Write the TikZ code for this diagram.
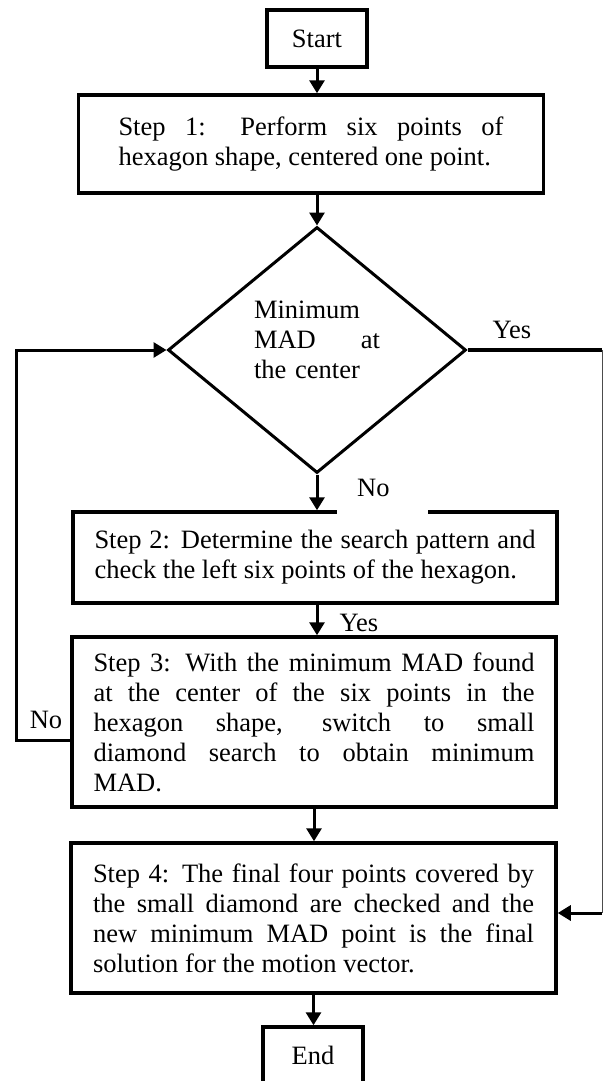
\documentclass[tikz,border=0pt]{standalone}
\usepackage{fontspec}
\setmainfont{Liberation Serif}
\usetikzlibrary{shapes.geometric, arrows.meta, positioning}
\hyphenpenalty=10000

\begin{document}
\begin{tikzpicture}[x=1pt, y=-1pt,
  txt/.style={font=\fontsize{26.5}{30}\selectfont},
  term/.style={txt, draw, line width=3.5pt, minimum width=100pt, minimum height=57pt, inner sep=0pt},
  stepbox/.style={txt, draw, line width=3.5pt, align=justify, inner sep=0pt},
  decision/.style={txt, draw, diamond, line width=3pt, minimum width=298pt, minimum height=246pt, inner sep=0pt, text width=126pt, align=left},
  flow/.style={line width=3pt, -{Triangle[length=13pt, width=15pt]}},
  lbl/.style={txt, inner sep=0pt}]
\useasboundingbox (0, 0) rectangle (603, 1081);

\node[term] (start) at (317, 38.5) {Start};
\node[stepbox, text width=385pt, minimum width=465pt, minimum height=98pt] (step1) at (311, 144)
  {Step 1: Perform six points of\linebreak hexagon shape, centered one point.};
\node[decision, text depth=80pt] (dec) at (317, 350) {Minimum\\ MAD\hfill at\\ the center};
\node[stepbox, text width=441pt, minimum width=484pt, minimum height=91pt] (step2) at (315, 557.5)
  {Step 2: Determine the search pattern and\linebreak check the left six points of the hexagon.};
\node[stepbox, text width=441pt, minimum width=484pt, minimum height=170pt] (step3) at (314, 722)
  {Step 3: With the minimum MAD found\linebreak at the center of the six points in the\linebreak
   hexagon shape, switch to small\linebreak diamond search to obtain minimum\linebreak MAD.};
\node[stepbox, text width=441pt, minimum width=485pt, minimum height=150pt] (step4) at (313.5, 918)
  {Step 4: The final four points covered by\linebreak the small diamond are checked and the\linebreak
   new minimum MAD point is the final\linebreak solution for the motion vector.};
\node[term] (end) at (313, 1055.5) {End};

\draw[flow] (start.south) -- (start.south |- step1.north);
\draw[flow] (step1.south -| dec.north) -- (dec.north);
\draw[flow] (dec.south) -- (dec.south |- step2.north);
\draw[flow] (step2.south -| dec.south) -- (dec.south |- step3.north);
\draw[flow] (step3.south) -- (step3.south |- step4.north);
\draw[flow] (step4.south) -- (step4.south |- end.north);

\coordinate (yesR) at (602, 350);
\coordinate (yesB) at (602, 913);
\draw[line width=3.5pt] (dec.east) -- (yesR);
\draw[line width=1pt, black!70] (yesR) -- (yesB);
\draw[flow] (yesB) -- (yesB -| step4.east);

\coordinate (noB) at (16, 740);
\coordinate (noT) at (16, 350);
\draw[flow] (noB -| step3.west) -- (noB) -- (noT) -- (dec.west);

\node[lbl] (yes1) at (512, 330) {Yes};
\node[lbl] (yes2) at (359, 623) {Yes};
\node[lbl] (no2) at (46, 720) {No};
\node[lbl, fill=white, anchor=base west, text height=20pt, text depth=19pt] (no1) at (337, 496)
  {\hspace*{20pt}No\hspace*{38pt}};
\end{tikzpicture}
\end{document}
